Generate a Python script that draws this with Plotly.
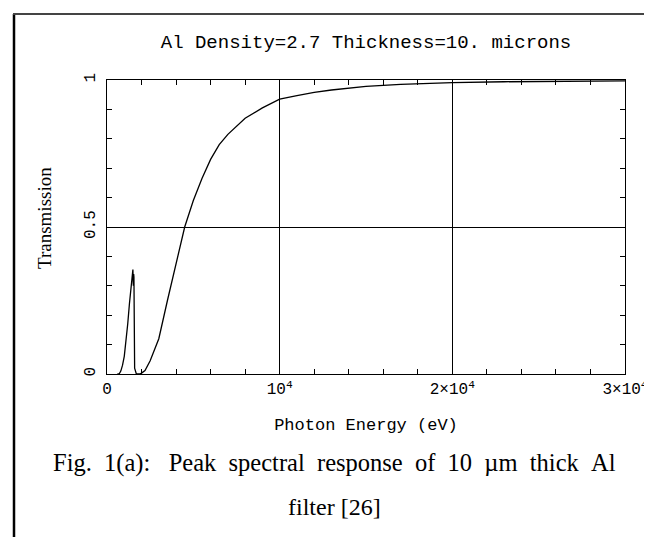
import plotly.graph_objects as go

# ---- data ----
energy_ev = [600, 700, 800, 900, 1000, 1100, 1200, 1300, 1400, 1450, 1500, 1525, 1545, 1560,
             1600, 1700, 1800, 1900, 2000, 2200, 2500, 3000, 3500, 4000, 4500, 5000, 5500,
             6000, 6500, 7000, 8000, 9000, 10000, 11000, 12000, 13000, 14000, 15000,
             17000, 20000, 23000, 26000, 30000]
transmission = [0.0, 0.0, 0.01, 0.03, 0.06, 0.11, 0.17, 0.24, 0.30, 0.33, 0.355, 0.30, 0.34, 0.33,
                0.02, 0.0, 0.0, 0.0, 0.003, 0.012, 0.045, 0.12, 0.25, 0.38, 0.50, 0.59, 0.665,
                0.73, 0.78, 0.815, 0.87, 0.905, 0.935, 0.947, 0.958, 0.966, 0.973, 0.978,
                0.985, 0.991, 0.994, 0.996, 0.997]

x_tick_vals = [0, 10000, 20000, 30000]
x_tick_text = ["0", "10<sup>4</sup>", "2×10<sup>4</sup>", "3×10<sup>4</sup>"]
y_tick_vals = [0, 0.5, 1]
y_tick_text = ["0", "0.5", "1"]

title_text = "Al Density=2.7 Thickness=10. microns"
x_title = "Photon Energy (eV)"
y_title = "Transmission"
caption_1_words = ["Fig.", "1(a):\u00a0", "Peak", "spectral", "response", "of", "10", "µm", "thick", "Al"]
caption_2 = "filter [26]"

W, H = 652, 537
L, R, T, B = 99, 35, 72, 171
pw, ph = W - L - R, H - T - B

def px(xp):
    return (xp - L) / pw

def py(yp):
    return (H - B - yp) / ph

fig = go.Figure()
fig.add_trace(go.Scatter(x=energy_ev, y=transmission, mode="lines",
                         line=dict(color="black", width=1.3), hoverinfo="skip"))

mono = "Liberation Mono"
serif = "Liberation Serif"

fig.update_layout(
    width=W, height=H,
    margin=dict(l=L, r=R, t=T, b=B),
    paper_bgcolor="white", plot_bgcolor="white",
    showlegend=False,
    xaxis=dict(range=[0, 30000], tickvals=x_tick_vals, ticktext=x_tick_text,
               showgrid=True, gridcolor="black", gridwidth=1,
               showline=True, linecolor="black", linewidth=1.2, mirror="ticks",
               ticks="inside", ticklen=0, zeroline=False,
               minor=dict(dtick=2000, ticks="inside", ticklen=5, tickcolor="black", showgrid=False),
               tickfont=dict(family=mono, size=16, color="black"),
               title=dict(text=x_title, font=dict(family=mono, size=17, color="black"), standoff=19)),
    yaxis=dict(range=[0, 1], tickvals=y_tick_vals, ticktext=y_tick_text,
               showgrid=True, gridcolor="black", gridwidth=1,
               showline=True, linecolor="black", linewidth=1.2, mirror="ticks",
               ticks="inside", ticklen=0, zeroline=False, tickangle=-90,
               ticklabelstandoff=5,
               minor=dict(dtick=0.1, ticks="inside", ticklen=5, tickcolor="black", showgrid=False),
               tickfont=dict(family=mono, size=16, color="black")),
    title=dict(text=title_text, xref="paper", x=0.5, xanchor="center",
               yref="container", y=1 - 33 / H, yanchor="middle",
               font=dict(family=mono, size=19, color="black")),
)

# y-axis title
fig.add_annotation(text=y_title, xref="paper", yref="paper", x=px(36), y=py(210),
                   xanchor="center", yanchor="middle", textangle=-90, showarrow=False,
                   font=dict(family=serif, size=19, color="black"))

# caption (line 1 is justified in the original, hence the wider gaps)
fig.add_annotation(text="\u00a0\u00a0".join(caption_1_words), xref="paper", yref="paper",
                   x=px(326), y=py(455), xanchor="center", yanchor="middle", showarrow=False,
                   font=dict(family=serif, size=24.5, color="black"))
fig.add_annotation(text=caption_2, xref="paper", yref="paper", x=px(326), y=py(499),
                   xanchor="center", yanchor="middle", showarrow=False,
                   font=dict(family=serif, size=24, color="black"))

# outer frame
fig.add_shape(type="line", xref="paper", yref="paper", x0=px(6), x1=px(6), y0=py(6), y1=py(545),
              line=dict(color="black", width=2.5))
fig.add_shape(type="line", xref="paper", yref="paper", x0=px(5), x1=px(641), y0=py(6), y1=py(6),
              line=dict(color="#444444", width=2))
fig.add_shape(type="line", xref="paper", yref="paper", x0=px(641), x1=px(641), y0=py(6), y1=py(545),
              line=dict(color="#888888", width=1))

fig.write_html("out.html")
